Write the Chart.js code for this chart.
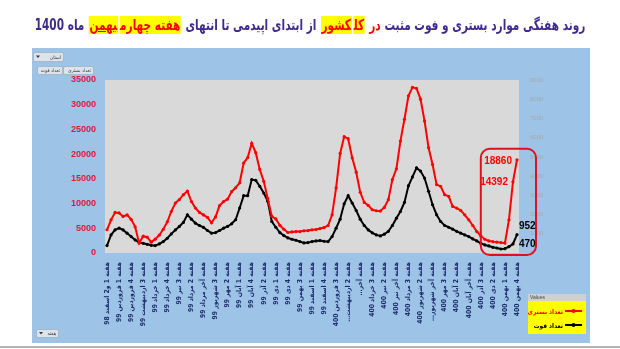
<!DOCTYPE html>
<html>
<head>
<meta charset="utf-8">
<script src="https://cdn.jsdelivr.net/npm/chart.js@4.4.1/dist/chart.umd.min.js"></script>
<style>
  html, body { margin: 0; padding: 0; background: #fff; }
  #wrap { position: relative; width: 620px; height: 349px; overflow: hidden; }
  #chart { position: absolute; left: 0; top: 0; }
  #tt { position: absolute; left: 310px; top: 16px; z-index: 2; direction: rtl; white-space: nowrap;
        font: bold 15px "DejaVu Sans", sans-serif; color: #3E2A8C; transform-origin: 50% 50%; }
  #tt .r { color: #FF0000; }
  #tt .hl { color: #FF0000; background: #FFFF00; padding: 0 1px; margin: 0 1px; }
  #tt .u { text-decoration: underline; }
</style>
</head>
<body>
<div id="wrap">
  <canvas id="chart" width="620" height="349"></canvas>
  <span id="tt">روند هفتگی موارد بستری و فوت مثبت <span class="r">در</span> <span class="hl">کل</span><span class="hl">کشور</span> از ابتدای اپیدمی تا انتهای <span class="hl">هفته چهارم</span><span class="hl u">بهمن</span> ماه 1400</span>
</div>
<script>
// weekly counts, Esfand 98 .. week 4 Bahman 1400
const hospitalized = [
  4700, 6700, 8200, 8100, 7400, 7700, 6800, 5300, 2000, 3400,
  3200, 2200, 2800, 3600, 4800, 6300, 8400, 10100, 10800, 11800,
  12500, 10400, 9100, 8200, 7700, 7200, 6100, 7300, 9600, 10400,
  10900, 12400, 13200, 14200, 18200, 19300, 22200, 20300, 16900, 14500,
  11000, 7400, 6900, 5600, 4800, 4150, 4270, 4340, 4340, 4480,
  4540, 4680, 4750, 4950, 5150, 5560, 7730, 13160, 20150, 23540,
  23130, 19260, 16350, 12280, 10240, 9630, 8750, 8550, 8480, 9220,
  10780, 14850, 17030, 22650, 27060, 31810, 33510, 33300, 31130, 26720,
  21300, 17900, 13840, 13500, 11800, 11460, 9430, 9090, 8610, 7730,
  6720, 5560, 4340, 3460, 2780, 2440, 2300, 2200, 2100, 2000,
  6700, 14392, 18860
];
const deaths = [
  384, 940, 1200, 1290, 1200, 1030, 855, 680, 540, 505,
  453, 400, 384, 470, 593, 767, 994, 1200, 1380, 1590,
  1990, 1760, 1550, 1430, 1330, 1170, 1030, 1060, 1170, 1290,
  1380, 1520, 1730, 2340, 2980, 2980, 3820, 3780, 3470, 3120,
  2690, 1640, 1340, 1060, 907, 785, 715, 663, 593, 523,
  540, 593, 628, 645, 610, 593, 855, 1290, 1760, 2560,
  2980, 2600, 2210, 1760, 1430, 1200, 1050, 940, 890, 977,
  1130, 1430, 1810, 2160, 2630, 3500, 3960, 4430, 4260, 3900,
  3210, 2510, 1990, 1640, 1430, 1340, 1240, 1130, 1030, 940,
  855, 730, 628, 505, 420, 366, 297, 260, 209, 226,
  331, 470, 952
];
// one label every third week
const tickLabels = [
  'هفته 1 و2 اسفند 98', 'هفته 1 فروردین 99', 'هفته 4 فروردین 99', 'هفته 3 اردیبهشت 99',
  'هفته 1 خرداد 99', 'هفته 4 خرداد 99', 'هفته 3 تیر 99', 'هفته 2 مرداد 99',
  'هفته آخر مرداد 99', 'هفته 3 شهریور 99', 'هفته 2 مهر 99', 'هفته 1 آبان 99',
  'هفته 4 آبان 99', 'هفته 2 آذر 99', 'هفته 1 دی 99', 'هفته 4 دی 99',
  'هفته 3 بهمن 99', 'هفته 1 اسفند 99', 'هفته 4 اسفند 99', 'هفته 3 فروردین 400',
  'هفته 2 اردیبهشت…', 'هفته آخر…', 'هفته 3 خرداد 400', 'هفته 2 تیر 400',
  'هفته آخر تیر 400', 'هفته 3 مرداد 400', 'هفته 2 شهریور 400', 'هفته آخر شهریور…',
  'هفته 3 مهر 400', 'هفته 2 آبان 400', 'هفته آخر آبان 400', 'هفته 3 آذر 400',
  'هفته 2 دی 400', 'هفته 1 بهمن 400', 'هفته 4 بهمن 400'
];
const seriesNames = ['تعداد بستری', 'تعداد فوت'];
const leftTicks = [0, 35000, 5000];
const rightTicks = [0, 9000, 1000];

const weeks = hospitalized.map((v, i) => i + 1);
const RED = '#FF0000';
const AR = '"DejaVu Sans Condensed", "DejaVu Sans", sans-serif';

function button(ctx, x, y, w, h, text, arrow) {
  ctx.save();
  ctx.fillStyle = '#DCE3EA';
  ctx.strokeStyle = '#9AA6B2';
  ctx.lineWidth = 0.6;
  ctx.beginPath();
  ctx.roundRect(x + 0.5, y + 0.5, w, h, 1.5);
  ctx.fill();
  ctx.stroke();
  ctx.fillStyle = '#3A3A3A';
  ctx.font = '5px ' + AR;
  ctx.direction = 'rtl';
  ctx.textAlign = 'right';
  ctx.textBaseline = 'middle';
  ctx.fillText(text, x + w - 2, y + h / 2 + 1);
  if (arrow) {
    ctx.beginPath();
    ctx.moveTo(x + 3, y + h / 2 - 1);
    ctx.lineTo(x + 7, y + h / 2 - 1);
    ctx.lineTo(x + 5, y + h / 2 + 1.5);
    ctx.closePath();
    ctx.fill();
  }
  ctx.restore();
}

const panel = {
  id: 'panel',
  beforeDraw(chart) {
    const { ctx, chartArea: a } = chart;
    ctx.save();
    ctx.fillStyle = '#FFFFFF';
    ctx.fillRect(0, 0, chart.width, chart.height);
    ctx.fillStyle = '#9DC3E6';
    ctx.fillRect(32, 48, 558, 295);
    ctx.fillStyle = '#B4B4B4';
    ctx.fillRect(0, 346, chart.width, 2);
    ctx.fillStyle = '#D9D9D9';
    ctx.fillRect(a.left, a.top, a.right - a.left, a.bottom - a.top);
    ctx.restore();
  },
  afterDatasetsDraw(chart) {
    const { ctx, chartArea: a } = chart;
    const red = chart.getDatasetMeta(0).data;
    const blk = chart.getDatasetMeta(1).data;
    const n = red.length - 1;
    ctx.save();
    // callout round the last weeks
    ctx.strokeStyle = '#E0101E';
    ctx.lineWidth = 2;
    ctx.beginPath();
    ctx.roundRect(red[n - 9].x, red[n].y - 11, a.right + 17 - red[n - 9].x, a.bottom + 2 - (red[n].y - 11), 9);
    ctx.stroke();

    ctx.font = 'bold 10px "Liberation Sans", Arial, sans-serif';
    ctx.textBaseline = 'middle';
    ctx.fillStyle = RED;
    ctx.textAlign = 'right';
    ctx.fillText(String(hospitalized[n]), red[n].x - 5, red[n].y + 1);
    ctx.fillText(String(hospitalized[n - 1]), red[n - 1].x - 5, red[n - 1].y);
    ctx.fillStyle = '#000';
    ctx.textAlign = 'left';
    ctx.fillText(String(deaths[n]), blk[n].x + 2, blk[n].y - 8);
    ctx.fillText(String(deaths[n - 1]), blk[n - 1].x + 6, blk[n - 1].y);
    ctx.restore();
  },
  afterDraw(chart) {
    const { ctx } = chart;
    // pivot field buttons
    button(ctx, 33, 52, 30, 9, 'استان', true);
    button(ctx, 63, 66, 30, 8, seriesNames[0], false);
    button(ctx, 37, 66, 25, 8, seriesNames[1], false);
    button(ctx, 36, 329, 22, 8, 'هفته', true);

    // legend
    ctx.save();
    ctx.fillStyle = '#FFFF00';
    ctx.fillRect(528, 294, 58, 40);
    ctx.fillStyle = '#D0D0D0';
    ctx.fillRect(528, 294, 58, 7);
    ctx.fillStyle = '#444';
    ctx.font = '5px "Liberation Sans", sans-serif';
    ctx.textBaseline = 'middle';
    ctx.fillText('Values', 530, 297.5);
    const rows = [[311, RED], [325, '#000']];
    rows.forEach(([y, c], k) => {
      ctx.strokeStyle = c;
      ctx.fillStyle = c;
      ctx.lineWidth = 2;
      ctx.beginPath();
      ctx.moveTo(565, y);
      ctx.lineTo(582, y);
      ctx.stroke();
      ctx.beginPath();
      ctx.arc(573.5, y, 2, 0, Math.PI * 2);
      ctx.fill();
      ctx.font = 'bold 6.5px ' + AR;
      ctx.direction = 'rtl';
      ctx.textAlign = 'right';
      ctx.fillText(seriesNames[k], 563, y + 1);
    });
    ctx.restore();
  }
};

const plain = v => String(v);

new Chart(document.getElementById('chart'), {
  type: 'line',
  data: {
    labels: weeks,
    datasets: [
      { label: seriesNames[0], data: hospitalized, yAxisID: 'y', borderColor: RED, backgroundColor: RED,
        borderWidth: 2, pointRadius: 1.6, pointBorderWidth: 0, tension: 0 },
      { label: seriesNames[1], data: deaths, yAxisID: 'y2', borderColor: '#000', backgroundColor: '#000',
        borderWidth: 2, pointRadius: 1.6, pointBorderWidth: 0, tension: 0 }
    ]
  },
  options: {
    responsive: false,
    animation: false,
    events: [],
    layout: { padding: { top: 80, left: 0, right: 0, bottom: 0 } },
    plugins: { legend: { display: false }, tooltip: { enabled: false } },
    scales: {
      x: {
        offset: true,
        grid: { display: false, drawTicks: false },
        border: { display: false },
        ticks: {
          autoSkip: false, maxRotation: 90, minRotation: 90, padding: 9,
          color: '#1C2B6B',
          font: { family: 'DejaVu Sans Condensed', size: 6.8, weight: 'bold' },
          callback: (v, i) => (i % 3 === 0 ? tickLabels[i / 3] + '\u200F' : '')
        },
        afterFit: s => { s.height = 96; }
      },
      y: {
        position: 'left', min: leftTicks[0], max: leftTicks[1],
        grid: { display: false, drawTicks: false },
        border: { display: false },
        ticks: { stepSize: leftTicks[2], padding: 9, color: '#E3173E', callback: plain,
                 font: { family: 'Liberation Sans', size: 9, weight: 'bold' } },
        afterFit: s => { s.width = 105; }
      },
      y2: {
        position: 'right', min: rightTicks[0], max: rightTicks[1],
        grid: { display: false, drawTicks: false },
        border: { display: false },
        ticks: { stepSize: rightTicks[2], padding: 11, color: '#A8A8A8', callback: plain,
                 font: { family: 'Liberation Sans', size: 6 } },
        afterFit: s => { s.width = 101; }
      }
    }
  },
  plugins: [panel]
});

// fit the heading to its line width, centred on the page
const tt = document.getElementById('tt');
const fit = () => {
  const k = 550 / tt.offsetWidth;
  tt.style.transform = 'translateX(-50%) scaleX(' + k.toFixed(3) + ')';
};
fit();
document.fonts.ready.then(fit);
</script>
</body>
</html>
